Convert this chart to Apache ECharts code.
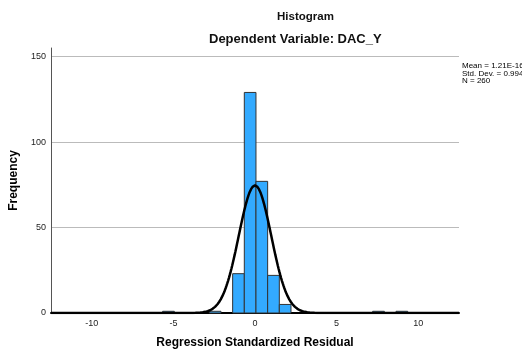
<!DOCTYPE html>
<html><head><meta charset="utf-8">
<script src="https://cdn.jsdelivr.net/npm/echarts@6/dist/echarts.min.js"></script>
<style>html,body{margin:0;padding:0;background:#fff}#c{width:522px;height:354px}</style>
</head><body><div id="c"></div>
<script>
// Histogram bins: start, end, frequency
const binStarts = [-5.66, -2.8, -1.37, -0.655, 0.06, 0.775, 1.49, 7.21, 8.64];
const binEnds   = [-4.945, -2.085, -0.655, 0.06, 0.775, 1.49, 2.205, 7.925, 9.355];
const counts    = [1, 1, 23, 129, 77, 22, 5, 1, 1];
const yTicks = [0, 50, 100, 150];
const xTicks = [-10, -5, 0, 5, 10];
const mean = 1.21e-16, sd = 0.994, N = 260, binWidth = 0.715;
const statsText = ['Mean = 1.21E-16', 'Std. Dev. = 0.994', 'N = 260'];

const bins = binStarts.map((s, i) => [s, binEnds[i], counts[i]]);
// normal curve defined by the reported mean / std. dev. / N
const curve = [];
for (let x = -12.5; x <= 12.5001; x += 0.05) {
  const z = (x - mean) / sd;
  curve.push([x, N * binWidth * Math.exp(-0.5 * z * z) / (sd * Math.sqrt(2 * Math.PI))]);
}
const font = 'Liberation Sans, Arial, sans-serif';
const chart = echarts.init(document.getElementById('c'), null, {renderer: 'canvas'});
chart.setOption({
  animation: false,
  textStyle: {fontFamily: font},
  graphic: [
    {type: 'text', left: 277, top: 11, style: {text: 'Histogram', font: 'bold 11.5px ' + font, fill: '#111'}},
    {type: 'text', left: 209, top: 33, style: {text: 'Dependent Variable: DAC_Y', font: 'bold 13px ' + font, fill: '#111'}},
    {type: 'text', left: 462, top: 62, style: {text: statsText.join('\n'), font: '8px ' + font, fill: '#000', lineHeight: 7.5}}
  ],
  grid: {left: 51, right: 63, top: 48, bottom: 38, containLabel: false},
  xAxis: {
    type: 'value', min: -12.5, max: 12.5,
    name: 'Regression Standardized Residual', nameLocation: 'middle', nameGap: 24,
    nameTextStyle: {fontFamily: font, fontSize: 12, fontWeight: 'bold', color: '#000'},
    axisLine: {show: true, onZero: false, lineStyle: {color: '#000', width: 2}},
    axisTick: {show: false},
    splitLine: {show: false},
    axisLabel: {fontFamily: font, fontSize: 9, color: '#222', margin: 6, customValues: xTicks}
  },
  yAxis: {
    type: 'value', min: 0, max: 155,
    name: 'Frequency', nameLocation: 'middle', nameGap: 29,
    nameTextStyle: {fontFamily: font, fontSize: 12, fontWeight: 'bold', color: '#000'},
    axisLine: {show: true, onZero: false, lineStyle: {color: '#555', width: 1}},
    axisTick: {show: false},
    splitLine: {show: true, lineStyle: {color: '#bbb', width: 1}, showMinLine: false, showMaxLine: false},
    axisLabel: {fontFamily: font, fontSize: 9, color: '#222', margin: 5, customValues: yTicks},
    splitNumber: 3
  },
  series: [
    {
      type: 'custom',
      data: bins,
      encode: {x: [0, 1], y: 2},
      renderItem: function (params, api) {
        const p0 = api.coord([api.value(0), api.value(2)]);
        const p1 = api.coord([api.value(1), 0]);
        return {
          type: 'rect',
          shape: {x: p0[0], y: p0[1], width: p1[0] - p0[0], height: p1[1] - p0[1]},
          style: {fill: '#33aaff', stroke: '#333', lineWidth: 1}
        };
      },
      z: 2
    },
    {
      type: 'line', data: curve, showSymbol: false, smooth: false,
      lineStyle: {color: '#000', width: 2.5}, z: 3
    }
  ]
});
</script></body></html>
